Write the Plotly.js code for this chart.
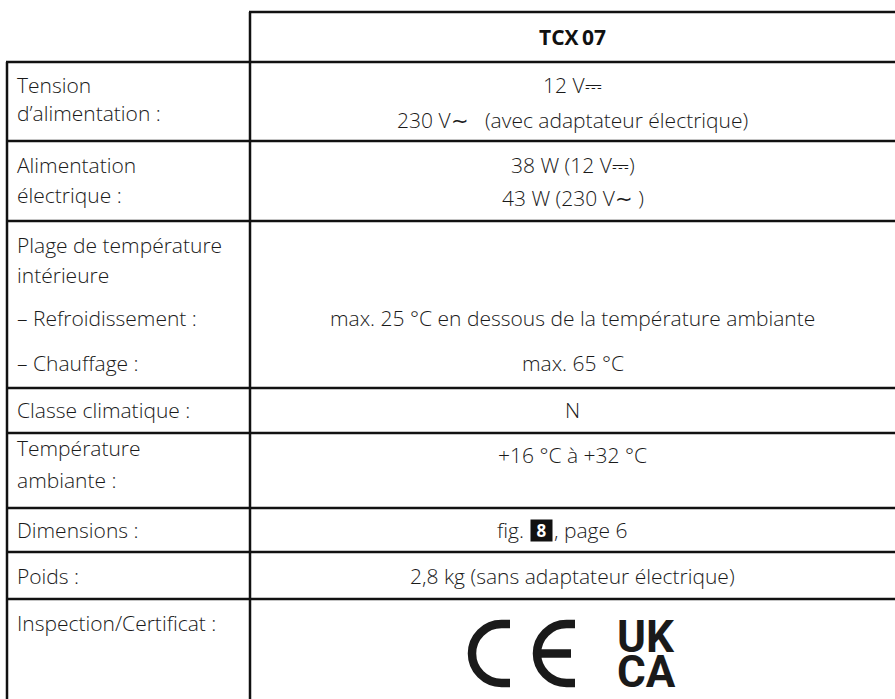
<!DOCTYPE html>
<html>
<head>
<meta charset="utf-8">
<script src="https://cdn.plot.ly/plotly-3.0.1.min.js"></script>
<style>html,body{margin:0;padding:0;background:#fff;}#chart{width:895px;height:699px;}</style>
</head>
<body>
<div id="chart"></div>
<script>
// ---- content ----
const headerLabel = "TCX\u200907";
const rowLabels = [
  ["Tension", "d\u2019alimentation :"],
  ["Alimentation", "électrique :"],
  ["Plage de température", "intérieure", "\u2013 Refroidissement :", "\u2013 Chauffage :"],
  ["Classe climatique :"],
  ["Température", "ambiante :"],
  ["Dimensions :"],
  ["Poids :"],
  ["Inspection/Certificat :"]
];
const rowValues = [
  ["12 V\u2393", "230 V\u223C\u00A0\u00A0 (avec adaptateur électrique)"],
  ["38 W (12 V\u2393)", "43 W (230 V\u223C )"],
  ["max. 25 °C en dessous de la température ambiante", "max. 65 °C"],
  ["N"],
  ["+16 °C à +32 °C"],
  ["fig.", "8", ", page 6"],
  ["2,8 kg (sans adaptateur électrique)"],
  ["UK", "CA"]
];

// ---- layout geometry (pixels) ----
const W = 895, H = 699;
const leftX = 7, midX = 250, topY = 12, headY = 62;
const rowBottoms = [141, 221, 388, 433, 508, 552, 599];
const labelLineY = [[85,113],[165,195],[245,275,318,363],[410],[448,480],[530],[576],[623]];
const valueLineY = [[85,120],[165,198],[318,363],[410],[455],[530],[576],[637,672]];
const lineColor = "#111";
const lw = 2.5;
const txtFont = {family: "Open Sans, sans-serif", size: 21, weight: 300, color: "#1a1a1a"};
const colCenter = (midX + W) / 2;

const shapes = [];
const hl = (y, x0, x1) => shapes.push({type:"line", xref:"x", yref:"y", x0:x0, x1:x1, y0:y, y1:y, line:{color:lineColor, width:lw}});
const vl = (x, y0, y1) => shapes.push({type:"line", xref:"x", yref:"y", x0:x, x1:x, y0:y0, y1:y1, line:{color:lineColor, width:lw}});
hl(topY, midX - 1, W);
hl(headY, leftX - 1, W);
rowBottoms.forEach(y => hl(y, leftX - 1, W));
vl(leftX, headY, H);
vl(midX, topY, H);

const ann = [];
ann.push({x: colCenter, y: 37, xref:"x", yref:"y", text: "<b>" + headerLabel + "</b>", showarrow:false,
  xanchor:"center", yanchor:"middle", font:{family:"Open Sans, sans-serif", size:21, color:"#111"}});

rowLabels.forEach((lines, r) => {
  lines.forEach((t, i) => {
    ann.push({x: 15, y: labelLineY[r][i], xref:"x", yref:"y", text: t, showarrow:false,
      xanchor:"left", yanchor:"middle", font: txtFont});
  });
});

rowValues.forEach((lines, r) => {
  if (r === 5) {
    const y = valueLineY[r][0];
    ann.push({x: 526, y: y, xref:"x", yref:"y", text: lines[0], showarrow:false, xanchor:"right", yanchor:"middle", font: txtFont});
    ann.push({x: 541, y: y, xref:"x", yref:"y", text: "<b>" + lines[1] + "</b>", showarrow:false, xanchor:"center", yanchor:"middle",
      bgcolor:"#111", width:21, height:21, borderpad:0, font:{family:"Open Sans, sans-serif", size:17, color:"#fff"}});
    ann.push({x: 552, y: y, xref:"x", yref:"y", text: lines[2], showarrow:false, xanchor:"left", yanchor:"middle", font: txtFont});
    return;
  }
  if (r === 7) {
    lines.forEach((t, i) => {
      ann.push({x: 646, y: valueLineY[r][i], xref:"x", yref:"y", text: "<b>" + t + "</b>", showarrow:false,
        xanchor:"center", yanchor:"middle", font:{family:"Roboto, sans-serif", size:44, color:"#1a1a1a"}});
    });
    return;
  }
  lines.forEach((t, i) => {
    ann.push({x: colCenter, y: valueLineY[r][i], xref:"x", yref:"y", text: t, showarrow:false,
      xanchor:"center", yanchor:"middle", font: txtFont});
  });
});

// CE mark drawn as stroked paths
function halfC(cx, cy, r, ext) {
  const k = 0.5523 * r;
  return `M ${cx+ext},${cy-r} L ${cx},${cy-r} C ${cx-k},${cy-r} ${cx-r},${cy-k} ${cx-r},${cy} ` +
         `C ${cx-r},${cy+k} ${cx-k},${cy+r} ${cx},${cy+r} L ${cx+ext},${cy+r}`;
}
const ceCy = 653.5, ceR = 29.5, ceStroke = 8.5;
shapes.push({type:"path", xref:"x", yref:"y", path: halfC(501.5, ceCy, ceR, 8.5), line:{color:"#1a1a1a", width:ceStroke}});
shapes.push({type:"path", xref:"x", yref:"y", path: halfC(566.5, ceCy, ceR, 8.5), line:{color:"#1a1a1a", width:ceStroke}});
shapes.push({type:"line", xref:"x", yref:"y", x0: 566.5 - ceR, x1: 571, y0: ceCy, y1: ceCy, line:{color:"#1a1a1a", width:ceStroke}});

const layout = {
  width: W, height: H,
  margin: {l:0, r:0, t:0, b:0, pad:0},
  paper_bgcolor: "#fff", plot_bgcolor: "#fff",
  xaxis: {range:[0, W], visible:false, fixedrange:true},
  yaxis: {range:[H, 0], visible:false, fixedrange:true},
  showlegend: false,
  shapes: shapes,
  annotations: ann
};
Plotly.newPlot("chart", [], layout, {staticPlot:true, displayModeBar:false});
</script>
</body>
</html>
